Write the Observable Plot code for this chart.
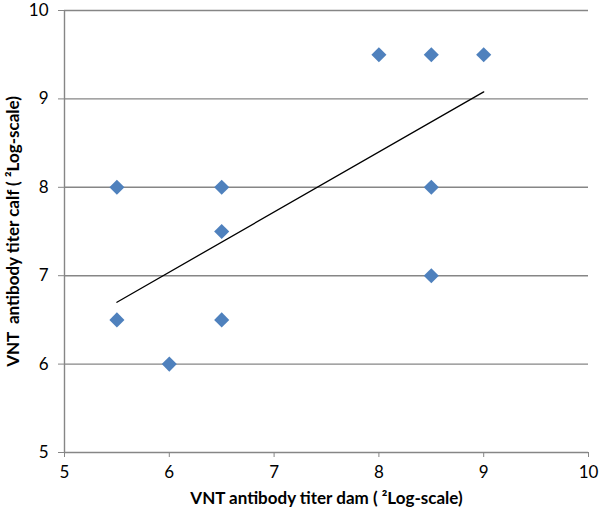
<!DOCTYPE html>
<html>
<head>
<meta charset="utf-8">
<script src="https://cdn.jsdelivr.net/npm/d3@7"></script>
<script src="https://cdn.jsdelivr.net/npm/@observablehq/plot@0.6"></script>
<style>
  html, body { margin: 0; padding: 0; background: #fff; }
</style>
</head>
<body>
<div id="chart"></div>
<script>
const damTiter  = [5.5, 5.5, 6, 6.5, 6.5, 6.5, 8, 8.5, 9, 8.5, 8.5];
const calfTiter = [8, 6.5, 6, 8, 7.5, 6.5, 9.5, 9.5, 9.5, 8, 7];
const trendX = [5.5, 9];
const trendY = [6.70, 9.08];
const xTicks = [5, 6, 7, 8, 9, 10];
const yTicks = [5, 6, 7, 8, 9, 10];
const xLabel = "VNT antibody titer dam ( \u00B2Log-scale)";
const yLabel = "VNT  antibody titer calf ( \u00B2Log-scale)";

const points = damTiter.map((d, i) => ({dam: d, calf: calfTiter[i]}));
const trend = trendX.map((d, i) => ({dam: d, calf: trendY[i]}));

const gridColor = "#868686";
const fmt = d3.format("d");

const chart = Plot.plot({
  width: 600,
  height: 514,
  marginLeft: 64,
  marginRight: 12,
  marginTop: 10,
  marginBottom: 62,
  style: {fontFamily: "Lato, 'Open Sans', sans-serif", fontSize: "17px", color: "#000", background: "#fff"},
  x: {domain: [5, 10]},
  y: {domain: [5, 10]},
  marks: [
    Plot.gridY(yTicks.filter(t => t > 5), {stroke: gridColor, strokeOpacity: 1, strokeWidth: 1.4}),
    Plot.ruleY([5], {stroke: gridColor, strokeWidth: 1.4}),
    Plot.ruleX([5], {stroke: gridColor, strokeWidth: 1.4}),
    Plot.axisX(xTicks, {tickSize: 5, tickPadding: 8, stroke: gridColor, fill: "#000", label: null, fontSize: 17, tickFormat: fmt}),
    Plot.axisY(yTicks, {tickSize: 6, tickPadding: 10, stroke: gridColor, fill: "#000", label: null, fontSize: 17, tickFormat: fmt}),
    Plot.line(trend, {x: "dam", y: "calf", stroke: "#000", strokeWidth: 1.3}),
    Plot.dot(points, {x: "dam", y: "calf", symbol: "diamond2", r: 6.8, fill: "#4f81bd", stroke: "none"}),
    Plot.text([xLabel], {frameAnchor: "bottom", dy: 51, fontWeight: "bold", fontSize: 17, fill: "#000"}),
    Plot.text([yLabel], {frameAnchor: "left", rotate: -90, dx: -51, textAnchor: "middle", fontWeight: "bold", fontSize: 17, fill: "#000"})
  ]
});
document.getElementById("chart").appendChild(chart);
</script>
</body>
</html>
